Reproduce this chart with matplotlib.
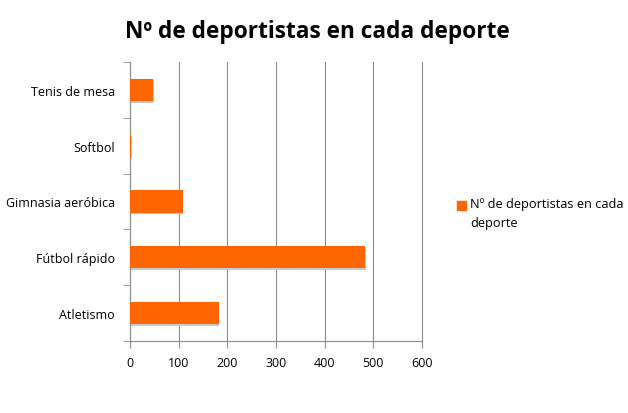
import matplotlib.pyplot as plt
from matplotlib.patches import Rectangle

plt.rcParams['font.family'] = ['Open Sans', 'DejaVu Sans']

deportes = ["Atletismo", "Fútbol rápido", "Gimnasia aeróbica", "Softbol", "Tenis de mesa"]
deportistas = [182, 483, 108, 2, 48]
ticks_x = [0, 100, 200, 300, 400, 500, 600]
titulo = "Nº de deportistas en cada deporte"
serie = "Nº de deportistas en cada\ndeporte"

naranja = "#FF6600"
gris = "#8C8C8C"

fig = plt.figure(figsize=(6.28, 4.14), dpi=100)
ax = fig.add_axes([0.207, 0.174, 0.465, 0.674])

pos = list(range(len(deportes)))
# sombra ligera detras de las barras
ax.barh([p - 0.03 for p in pos], deportistas, height=0.4, left=1.5,
        color="#C8C8C8", zorder=2)
ax.barh(pos, deportistas, height=0.4, color=naranja, zorder=3)

ax.set_xlim(0, 600)
ax.set_ylim(-0.5, len(deportes) - 0.5)
ax.set_xticks(ticks_x)
ax.set_xticklabels([str(t) for t in ticks_x], fontsize=9)
ax.set_yticks(pos)
ax.set_yticklabels(deportes, fontsize=9)
ax.tick_params(axis="y", length=0, pad=11)
ax.tick_params(axis="x", length=5, color=gris, pad=6)

# ticks en los limites de categoria
ax.set_yticks([p - 0.5 for p in range(len(deportes) + 1)], minor=True)
ax.tick_params(axis="y", which="minor", length=5, color=gris)

ax.grid(axis="x", color=gris, linewidth=0.8, zorder=0)
for line in ax.get_xgridlines():
    line.set_clip_on(False)
for s in ["top", "right"]:
    ax.spines[s].set_visible(False)
for s in ["left", "bottom"]:
    ax.spines[s].set_color(gris)
    ax.spines[s].set_linewidth(0.8)

fig.text(0.506, 0.923, titulo, ha="center", va="center", fontsize=16.3, fontweight="bold")

# leyenda
fig.patches.append(Rectangle((457 / 628, 1 - 211 / 414), 9 / 628, 9 / 414,
                             transform=fig.transFigure, color=naranja))
fig.text(470 / 628, 1 - 198 / 414, serie, ha="left", va="top", fontsize=9.2,
         linespacing=1.6)

fig.savefig("out.png", dpi=100)
